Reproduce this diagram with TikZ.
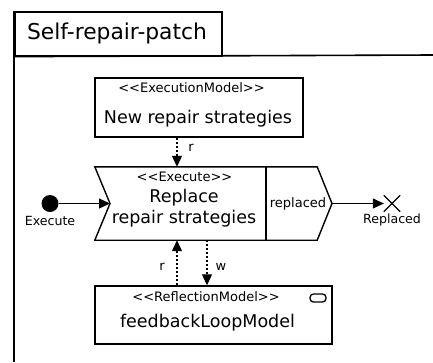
\documentclass[tikz,border=0pt]{standalone}
\usepackage{fontspec}
\setmainfont{DejaVu Sans}[Ligatures=TeXOff]
\usetikzlibrary{arrows.meta,shapes.misc}
\tikzset{
  frameline/.style={line width=1.6pt},
  boxline/.style={draw,line width=1.4pt},
  modelbox/.style={boxline,rectangle,inner sep=0pt},
  dep/.style={line width=1.1pt,dash pattern=on 2pt off 2pt,-{Triangle[length=11pt,width=10pt]}},
  flow/.style={line width=1.2pt,-{Triangle[length=11pt,width=10pt]}},
  huge/.style={font=\fontsize{21.8}{25}\selectfont},
  big/.style={font=\fontsize{17.5}{21}\selectfont},
  small/.style={font=\fontsize{13}{15}\selectfont},
  tiny/.style={font=\fontsize{12.6}{15}\selectfont},
}
\begin{document}
\begin{tikzpicture}[x=1pt,y=-1pt]
\useasboundingbox (0,0) rectangle (433,362);
% package frame with its name tab
\node[draw,frameline,rectangle,minimum width=207pt,minimum height=44pt,anchor=north west,inner sep=0pt] (tab) at (14,11) {};
\node[huge] (title) at (117,33) {Self-repair-patch};
\coordinate (frameR) at (433,55);
\coordinate (frameB) at (14,362);
\draw[frameline] (tab.south west) -- (frameR);
\draw[frameline] (tab.north west) -- (frameB);

% execution model
\node[modelbox,minimum width=208pt,minimum height=59pt] (em) at (199,107.5) {};
\node[small] (emst) at (191.5,88) {<<ExecutionModel>>};
\node[big] (emname) at (198,119) {New repair strategies};

% execute action (pentagon with notch)
\node[rectangle,minimum width=222pt,minimum height=73pt,inner sep=0pt] (ex) at (206,203.5) {};
\coordinate (notch) at (110,203.5);
\coordinate (tip) at (332,203.5);
\coordinate (divT) at (266,167);
\coordinate (divB) at (266,240);
\draw[line width=1.4pt,line join=miter] (ex.north west) -- (ex.north east) -- (tip) -- (ex.south east) -- (ex.south west) -- (notch) -- cycle;
\draw[line width=1.4pt] (divT) -- (divB);
\node[small] (exst) at (184.5,177) {<<Execute>>};
\node[big] (exl1) at (184,198) {Replace};
\node[big] (exl2) at (184,219) {repair strategies};
\node[small] (exout) at (298,203.5) {replaced};

% reflection model
\node[modelbox,minimum width=237pt,minimum height=58pt] (rm) at (213.5,315) {};
\node[small] (rmst) at (206,297) {<<ReflectionModel>>};
\node[big] (rmname) at (207.5,323) {feedbackLoopModel};
\node[draw,line width=1.3pt,rounded corners=3.5pt,minimum width=16pt,minimum height=8pt,inner sep=0pt] (icon) at (318,298) {};

% start and end
\node[circle,fill=black,minimum size=17pt,inner sep=0pt] (start) at (50,203.5) {};
\node[tiny] (startl) at (50,220.5) {Execute};
\node[cross out,draw,line width=1.3pt,minimum size=15pt,inner sep=0pt] (stop) at (392,203.5) {};
\node[tiny] (stopl) at (392,220.5) {Replaced};

\draw[flow] (start) -- (notch);
\draw[flow] (tip) -- (stop.west);

% read / write dependencies
\coordinate (xr) at (177,0);
\coordinate (xw) at (207,0);
\draw[dep] (em.south -| xr) -- (ex.north -| xr);
\node[small] (lr1) at (191,148) {r};
\draw[dep] (rm.north -| xr) -- (ex.south -| xr);
\node[small] (lr2) at (162,267) {r};
\draw[dep] (ex.south -| xw) -- (rm.north -| xw);
\node[small] (lw) at (221,267) {w};
\end{tikzpicture}
\end{document}
